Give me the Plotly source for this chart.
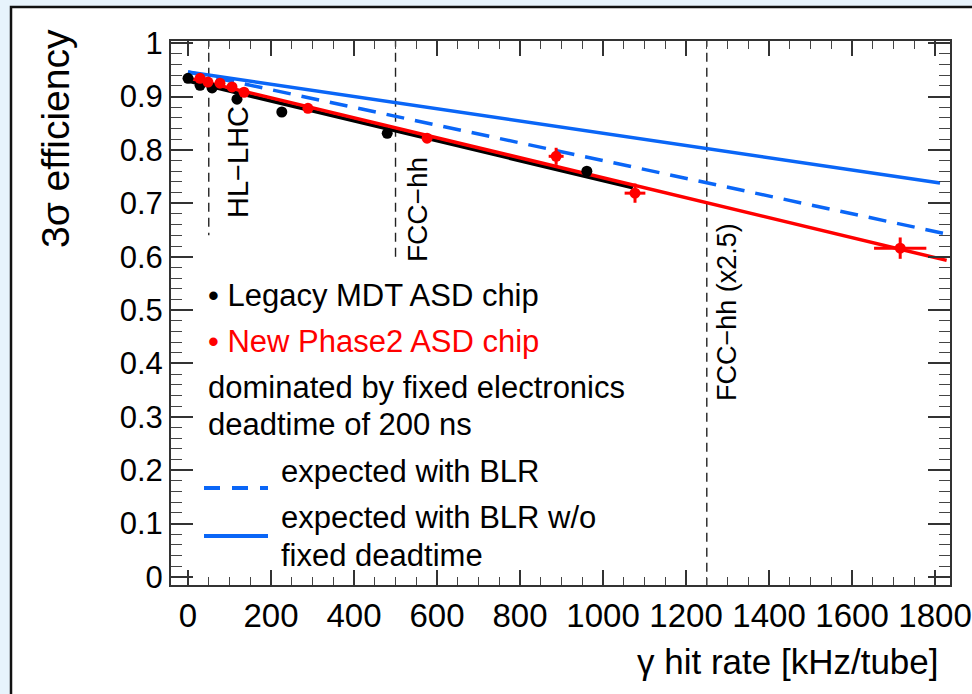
import plotly.graph_objects as go

# ---------------- data ----------------
legacy_rate = [0, 29, 58, 118, 226, 480, 961]
legacy_eff = [0.934, 0.921, 0.916, 0.895, 0.871, 0.831, 0.760]

phase2_rate = [29, 48, 77, 106, 135, 289, 576, 887, 1077, 1716]
phase2_eff = [0.934, 0.927, 0.925, 0.918, 0.908, 0.878, 0.822, 0.788, 0.719, 0.616]
phase2_rate_err = [0, 0, 0, 0, 0, 0, 0, 18, 25, 63]
phase2_eff_err = [0, 0, 0, 0, 0, 0, 0, 0.016, 0.018, 0.020]

legacy_fit_rate = [0, 1072]
legacy_fit_eff = [0.929, 0.729]
phase2_fit_rate = [0, 1828]
phase2_fit_eff = [0.935, 0.593]
blr_rate = [0, 1819]
blr_eff = [0.946, 0.644]
blr_nodt_rate = [0, 1812]
blr_nodt_eff = [0.946, 0.738]

scenario_labels = ["HL\u2212LHC", "FCC\u2212hh", "FCC\u2212hh (x2.5)"]
scenario_rate = [50, 500, 1250]
scenario_line_bottom = [0.640, 0.597, -0.015]

x_tick_vals = [0, 200, 400, 600, 800, 1000, 1200, 1400, 1600, 1800]
x_tick_text = ["0", "200", "400", "600", "800", "1000", "1200", "1400", "1600", "1800"]
y_tick_vals = [0, 0.1, 0.2, 0.3, 0.4, 0.5, 0.6, 0.7, 0.8, 0.9, 1.0]
y_tick_text = ["0", "0.1", "0.2", "0.3", "0.4", "0.5", "0.6", "0.7", "0.8", "0.9", "1"]

legend_lines = [
    "\u2022 Legacy MDT ASD chip",
    "\u2022 New Phase2 ASD chip",
    "dominated by fixed electronics",
    "deadtime of 200 ns",
    "expected with BLR",
    "expected with BLR w/o",
    "fixed deadtime",
]

# ---------------- layout geometry ----------------
W, H = 972, 694
PL, PR, PT, PB = 171, 22, 41, 109
pw, ph = W - PL - PR, H - PT - PB


def px(x):
    return (x - PL) / pw


def py(y):
    return (H - PB - y) / ph


RED = "#ff0000"
BLUE = "#0a66f7"
FONT = "Liberation Sans, Arial, Helvetica, sans-serif"

fig = go.Figure()

# vertical scenario lines
for r, b in zip(scenario_rate, scenario_line_bottom):
    fig.add_trace(go.Scatter(x=[r, r], y=[1.01, b], mode="lines",
                             line=dict(color="#222", width=1.4, dash="9px,6px"),
                             hoverinfo="skip", showlegend=False))

# fit lines
fig.add_trace(go.Scatter(x=legacy_fit_rate, y=legacy_fit_eff, mode="lines",
                         line=dict(color="black", width=3.5), showlegend=False))
fig.add_trace(go.Scatter(x=phase2_fit_rate, y=phase2_fit_eff, mode="lines",
                         line=dict(color=RED, width=3.5), showlegend=False))
fig.add_trace(go.Scatter(x=blr_rate, y=blr_eff, mode="lines",
                         line=dict(color=BLUE, width=3.5, dash="18px,11px"), showlegend=False))
fig.add_trace(go.Scatter(x=blr_nodt_rate, y=blr_nodt_eff, mode="lines",
                         line=dict(color=BLUE, width=3.5), showlegend=False))

# data points
fig.add_trace(go.Scatter(x=legacy_rate, y=legacy_eff, mode="markers",
                         marker=dict(color="black", size=11), showlegend=False))
fig.add_trace(go.Scatter(x=phase2_rate, y=phase2_eff, mode="markers",
                         marker=dict(color=RED, size=11),
                         error_x=dict(type="data", array=phase2_rate_err, color=RED, thickness=3, width=0),
                         error_y=dict(type="data", array=phase2_eff_err, color=RED, thickness=3, width=0),
                         showlegend=False))

annotations = []
# scenario labels (rotated)
scen_pos = [(238, 162), (417, 210), (727, 312)]
scen_size = [29, 28, 27]
for lab, (x, y), s in zip(scenario_labels, scen_pos, scen_size):
    annotations.append(dict(text=lab, x=px(x), y=py(y), xref="paper", yref="paper",
                            textangle=-90, showarrow=False, xanchor="center", yanchor="middle",
                            font=dict(family=FONT, size=s, color="black")))

# legend texts
leg_pos = [(206, 295, "black"), (206, 341, RED), (206, 387, "black"), (206, 425, "black"),
           (279, 471, "black"), (279, 517, "black"), (279, 555, "black")]
for txt, (x, y, c) in zip(legend_lines, leg_pos):
    annotations.append(dict(text=txt, x=px(x), y=py(y), xref="paper", yref="paper",
                            showarrow=False, xanchor="left", yanchor="middle",
                            font=dict(family=FONT, size=31, color=c)))

# axis titles
annotations.append(dict(text="3\u03c3 efficiency", x=px(55), y=py(139), xref="paper", yref="paper",
                        textangle=-90, showarrow=False, xanchor="center", yanchor="middle",
                        font=dict(family=FONT, size=39, color="black")))
annotations.append(dict(text="\u03b3 hit rate [kHz/tube]", x=px(941), y=py(661), xref="paper", yref="paper",
                        showarrow=False, xanchor="right", yanchor="middle",
                        font=dict(family=FONT, size=35, color="black")))

shapes = [
    # white slide panel with black border
    dict(type="rect", xref="paper", yref="paper", x0=px(11), x1=px(990), y0=py(720), y1=py(7),
         fillcolor="white", line=dict(color="#111", width=2.5), layer="below"),
    # legend line samples
    dict(type="line", xref="paper", yref="paper", x0=px(204), x1=px(268), y0=py(488), y1=py(488),
         line=dict(color=BLUE, width=4, dash="16px,12px"), layer="above"),
    dict(type="line", xref="paper", yref="paper", x0=px(204), x1=px(268), y0=py(536), y1=py(536),
         line=dict(color=BLUE, width=4), layer="above"),
]

fig.update_layout(
    width=W, height=H,
    margin=dict(l=PL, r=PR, t=PT, b=PB, pad=0),
    paper_bgcolor="#e7f3fc",
    plot_bgcolor="white",
    showlegend=False,
    annotations=annotations,
    shapes=shapes,
    xaxis=dict(range=[-41, 1836], tickvals=x_tick_vals, ticktext=x_tick_text,
               ticks="inside", ticklen=15, tickwidth=1.5, tickcolor="#333",
               minor=dict(dtick=50, tick0=0, ticks="inside", ticklen=8, tickwidth=1.2, tickcolor="#444"),
               showline=True, linecolor="#333", linewidth=2, mirror="ticks",
               showgrid=False, zeroline=False, automargin=False,
               tickfont=dict(family=FONT, size=33, color="black")),
    yaxis=dict(range=[-0.015, 1.004], tickvals=y_tick_vals, ticktext=y_tick_text,
               ticks="inside", ticklen=22, tickwidth=1.5, tickcolor="#333",
               minor=dict(dtick=0.02, tick0=0, ticks="inside", ticklen=11, tickwidth=1.2, tickcolor="#444"),
               showline=True, linecolor="#333", linewidth=2, mirror="ticks",
               showgrid=False, zeroline=False, automargin=False,
               tickfont=dict(family=FONT, size=31, color="black")),
)

fig.write_html("out.html")
